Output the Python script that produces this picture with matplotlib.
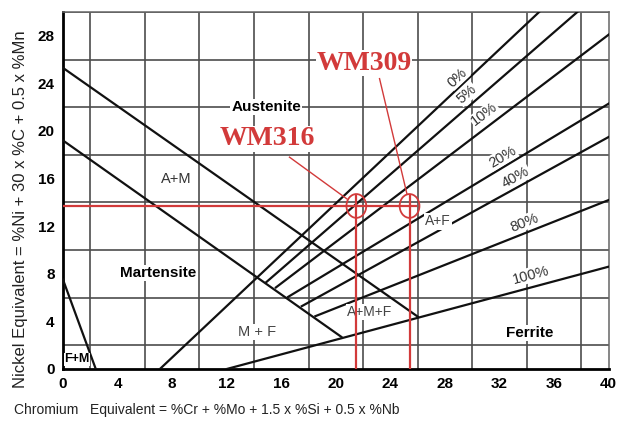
import numpy as np
import matplotlib
matplotlib.use("Agg")
import matplotlib.pyplot as plt
from matplotlib.patches import Ellipse

plt.rcParams['font.family'] = ['Liberation Sans', 'DejaVu Sans']

# axis ticks
cr_ticks = [0, 4, 8, 12, 16, 20, 24, 28, 32, 36, 40]
ni_ticks = [0, 4, 8, 12, 16, 20, 24, 28]

# phase boundaries (start / end points)
aust_upper_x = [0, 26.0]
aust_upper_y = [25.3, 4.4]
aust_lower_x = [0, 20.4]
aust_lower_y = [19.2, 2.7]
fm_x = [0, 2.4]
fm_y = [7.5, 0]

# iso-ferrite lines
ferrite_pct = ["0%", "5%", "10%", "20%", "40%", "80%", "100%"]
ferrite_x0 = [7.1, 14.9, 15.6, 16.5, 17.5, 18.5, 12.0]
ferrite_y0 = [0.0, 7.3, 6.85, 6.06, 5.28, 4.44, 0.0]
ferrite_x1 = [34.9, 37.7, 40, 40, 40, 40, 40]
ferrite_y1 = [30, 30, 28.1, 22.3, 19.5, 14.2, 8.6]
pct_lab_x = [28.9, 29.6, 30.9, 32.2, 33.2, 33.8, 34.3]
pct_lab_y = [24.5, 23.1, 21.4, 17.8, 16.1, 12.3, 7.9]

# weld metals
wm_names = ["WM316", "WM309"]
wm_cr = [21.5, 25.4]
wm_ni = [13.7, 13.7]
wm_text_x = [14.95, 22.05]
wm_text_y = [19.35, 25.7]
wm_lead_x = [16.6, 23.2]
wm_lead_y = [17.8, 24.4]
wm_lead_end_x = [20.8, 25.2]
wm_lead_end_y = [14.3, 14.75]

red = "#d23a3a"

fig = plt.figure(figsize=(6.18, 4.22), dpi=100)
ax = fig.add_axes([0.102, 0.1256, 0.883, 0.846])
ax.set_xlim(0, 40)
ax.set_ylim(0, 30)

# grid every 2 units
ax.set_xticks(np.arange(0, 41, 2), minor=True)
ax.set_yticks(np.arange(0, 31, 2), minor=True)
ax.grid(True, which="minor", color="#4d4d4d", lw=1.2)
ax.set_xticks(cr_ticks)
ax.set_yticks(ni_ticks)
ax.set_xticklabels([str(t) for t in cr_ticks], fontweight="bold", fontsize=11)
ax.set_yticklabels([str(t) for t in ni_ticks], fontweight="bold", fontsize=11)
ax.tick_params(which="both", length=0, pad=6)
ax.set_axisbelow(True)
for s in ["top", "right"]:
    ax.spines[s].set_color("#666666")
    ax.spines[s].set_linewidth(1.1)
for s in ["left", "bottom"]:
    ax.spines[s].set_color("black")
    ax.spines[s].set_linewidth(2)

lk = dict(color="#111111", lw=1.6, zorder=3)
ax.plot(aust_upper_x, aust_upper_y, **lk)
ax.plot(aust_lower_x, aust_lower_y, **lk)
ax.plot(fm_x, fm_y, **lk)
for i in range(len(ferrite_pct)):
    ax.plot([ferrite_x0[i], ferrite_x1[i]], [ferrite_y0[i], ferrite_y1[i]], **lk)

# percent labels rotated along their line
fig.canvas.draw()
for i, lab in enumerate(ferrite_pct):
    p0 = ax.transData.transform((ferrite_x0[i], ferrite_y0[i]))
    p1 = ax.transData.transform((ferrite_x1[i], ferrite_y1[i]))
    ang = np.degrees(np.arctan2(p1[1] - p0[1], p1[0] - p0[0]))
    ax.text(pct_lab_x[i], pct_lab_y[i], lab, rotation=ang, rotation_mode="anchor",
            ha="center", va="center", fontsize=10.5, color="#333333", zorder=4,
            bbox=dict(facecolor="white", edgecolor="none", pad=0.5))

# region names
box = dict(facecolor="white", edgecolor="none", pad=0.8)
ax.text(14.9, 22.0, "Austenite", ha="center", va="center", fontsize=11,
        fontweight="bold", bbox=box, zorder=4)
ax.text(8.3, 16.0, "A+M", ha="center", va="center", fontsize=10.5,
        color="#333333", bbox=box, zorder=4)
ax.text(6.96, 8.1, "Martensite", ha="center", va="center", fontsize=11,
        fontweight="bold", bbox=box, zorder=4)
ax.text(14.25, 3.1, "M + F", ha="center", va="center", fontsize=10.5,
        color="#444444", bbox=box, zorder=4)
ax.text(1.0, 0.8, "F+M", ha="center", va="center", fontsize=9,
        fontweight="bold", bbox=dict(facecolor="white", edgecolor="none", pad=0.2), zorder=4)
ax.text(27.5, 12.4, "A+F", ha="center", va="center", fontsize=10,
        color="#444444", bbox=box, zorder=4)
ax.text(22.5, 4.8, "A+M+F", ha="center", va="center", fontsize=10,
        color="#444444", bbox=box, zorder=4)
ax.text(34.2, 3.0, "Ferrite", ha="center", va="center", fontsize=11,
        fontweight="bold", bbox=box, zorder=4)

# weld metal markers
ax.plot([0, max(wm_cr) + 0.5], [wm_ni[0], wm_ni[0]], color=red, lw=1.6, zorder=5)
for i in range(len(wm_names)):
    ax.plot([wm_cr[i], wm_cr[i]], [0, wm_ni[i] + 0.8], color=red, lw=1.6, zorder=5)
    ax.add_patch(Ellipse((wm_cr[i], wm_ni[i]), 1.45, 2.0, fill=False,
                         edgecolor=red, lw=1.3, zorder=5))
    ax.plot([wm_lead_x[i], wm_lead_end_x[i]], [wm_lead_y[i], wm_lead_end_y[i]],
            color=red, lw=1.0, zorder=5)
    ax.text(wm_text_x[i], wm_text_y[i], wm_names[i], ha="center", va="center",
            fontsize=20, fontweight="bold", color=red, family="Liberation Serif",
            zorder=6, bbox=dict(facecolor="white", edgecolor="none", pad=0.3))

fig.text(0.033, 0.505, "Nickel Equivalent = %Ni + 30 x %C + 0.5 x %Mn", rotation=90,
         ha="center", va="center", fontsize=12, color="#222222")
fig.text(0.023, 0.028, "Chromium   Equivalent = %Cr + %Mo + 1.5 x %Si + 0.5 x %Nb",
         ha="left", va="center", fontsize=10, color="#222222")

fig.savefig("out.png", dpi=100)
